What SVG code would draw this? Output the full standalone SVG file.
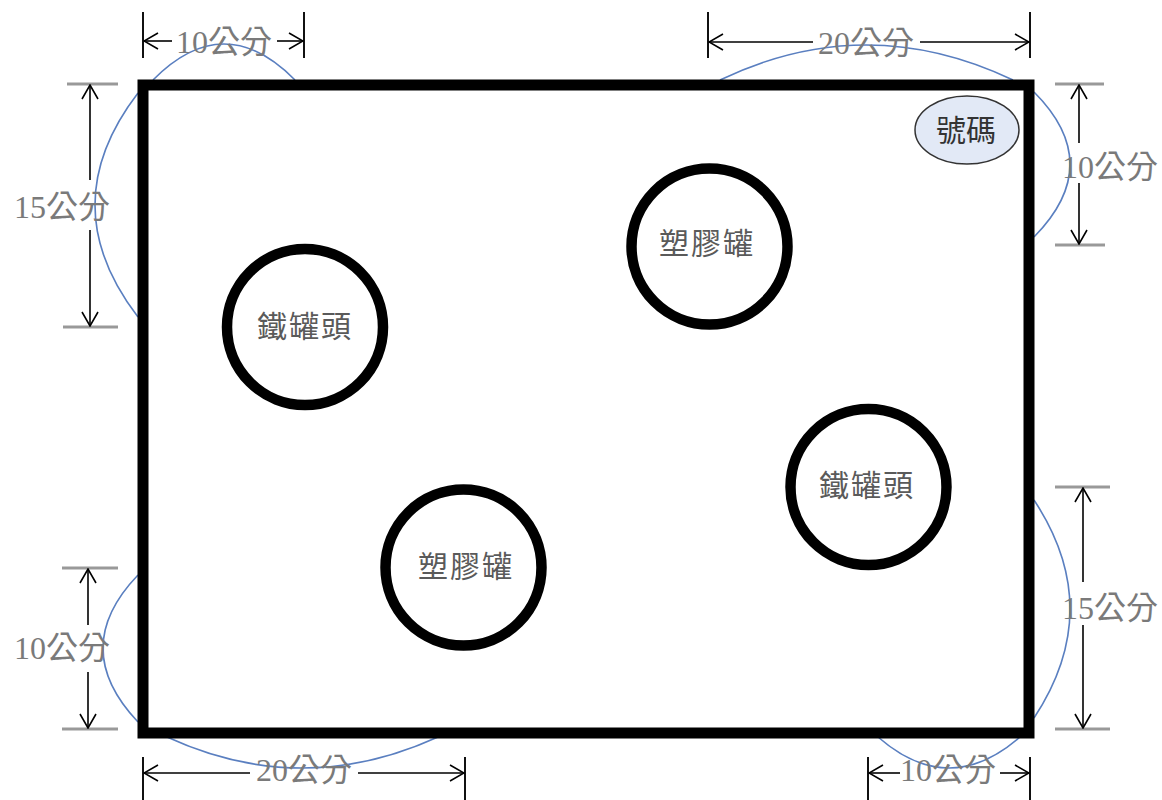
<svg xmlns="http://www.w3.org/2000/svg" width="1162" height="800" viewBox="0 0 1162 800">
<defs>
<marker id="ah" viewBox="0 0 16 18" refX="15" refY="9" markerWidth="16" markerHeight="18" markerUnits="userSpaceOnUse" orient="auto">
<path d="M1,1 L15,9 L1,17" fill="none" stroke="#000" stroke-width="1.6"/>
</marker>
<style>
.arc{fill:none;stroke:#5a7fc0;stroke-width:1.6}
.dl{stroke:#000;stroke-width:1.6;marker-end:url(#ah)}
.vt{stroke:#111;stroke-width:2}
.ht{stroke:#999;stroke-width:3}
.dim{font-family:"Liberation Serif","Noto Sans CJK TC",serif;font-size:32px;fill:#7a7a7a;text-anchor:middle}
.can{fill:none;stroke:#000;stroke-width:10.5}
.lbl{font-family:"Noto Sans CJK TC","Noto Sans CJK SC",sans-serif;font-size:30px;fill:#5a5a5a;text-anchor:middle;letter-spacing:2px}
</style>
</defs>
<rect width="1162" height="800" fill="#fff"/>
<g id="arcs">
<path class="arc" d="M153,80 Q224,8 295,80"/>
<path class="arc" d="M720,80 Q866,10 1013,80"/>
<path class="arc" d="M1034,92 Q1106,164 1034,237"/>
<path class="arc" d="M138,93 Q52,205 138,317"/>
<path class="arc" d="M138,575 Q68,648 138,722"/>
<path class="arc" d="M167,737 Q302,799 438,737"/>
<path class="arc" d="M878,737 Q949,799 1020,737"/>
<path class="arc" d="M1034,500 Q1106,609 1034,718"/>
</g>
<g id="board">
<rect x="143" y="85" width="886" height="648" fill="#fff" stroke="#000" stroke-width="11"/>
</g>
<g id="can1"><circle class="can" cx="305" cy="327" r="78"/><text class="lbl" x="305" y="337">鐵罐頭</text></g>
<g id="can2"><circle class="can" cx="709.5" cy="246.5" r="78"/><text class="lbl" x="707" y="254">塑膠罐</text></g>
<g id="can3"><circle class="can" cx="868.5" cy="487" r="78"/><text class="lbl" x="867" y="496">鐵罐頭</text></g>
<g id="can4"><circle class="can" cx="463.5" cy="567.5" r="78"/><text class="lbl" x="466" y="577">塑膠罐</text></g>
<g id="number"><ellipse cx="967" cy="130" rx="52" ry="34" fill="#e2e9f6" stroke="#333" stroke-width="1.5"/><text x="966" y="141" font-family="Noto Sans CJK TC, Noto Sans CJK SC, sans-serif" font-size="30" fill="#333" text-anchor="middle">號碼</text></g>
<g id="connectors">
<line class="vt" x1="143" y1="12" x2="143" y2="58"/><line class="vt" x1="304" y1="12" x2="304" y2="58"/>
<line class="dl" x1="172" y1="41" x2="144" y2="41"/><line class="dl" x1="277" y1="41" x2="303" y2="41"/>
<line class="vt" x1="708" y1="12" x2="708" y2="58"/><line class="vt" x1="1030" y1="12" x2="1030" y2="58"/>
<line class="dl" x1="813" y1="42" x2="709" y2="42"/><line class="dl" x1="920" y1="42" x2="1029" y2="42"/>
<line class="ht" x1="67" y1="84" x2="118" y2="84"/><line class="ht" x1="63" y1="327" x2="118" y2="327"/>
<line class="dl" x1="90" y1="180" x2="90" y2="85"/><line class="dl" x1="90" y1="230" x2="90" y2="326"/>
<line class="ht" x1="62" y1="568" x2="118" y2="568"/><line class="ht" x1="62" y1="729" x2="118" y2="729"/>
<line class="dl" x1="88" y1="625" x2="88" y2="569"/><line class="dl" x1="88" y1="672" x2="88" y2="728"/>
<line class="vt" x1="143" y1="757" x2="143" y2="800"/><line class="vt" x1="465" y1="757" x2="465" y2="800"/>
<line class="dl" x1="250" y1="773" x2="144" y2="773"/><line class="dl" x1="358" y1="773" x2="464" y2="773"/>
<line class="vt" x1="868" y1="757" x2="868" y2="800"/><line class="vt" x1="1030" y1="757" x2="1030" y2="800"/>
<line class="dl" x1="900" y1="773" x2="869" y2="773"/><line class="dl" x1="1000" y1="773" x2="1029" y2="773"/>
<line class="ht" x1="1055" y1="84" x2="1104" y2="84"/><line class="ht" x1="1055" y1="245" x2="1105" y2="245"/>
<line class="dl" x1="1079" y1="143" x2="1079" y2="85"/><line class="dl" x1="1079" y1="183" x2="1079" y2="244"/>
<line class="ht" x1="1055" y1="487" x2="1110" y2="487"/><line class="ht" x1="1055" y1="729" x2="1110" y2="729"/>
<line class="dl" x1="1083" y1="582" x2="1083" y2="488"/><line class="dl" x1="1083" y1="625" x2="1083" y2="728"/>
</g>
<g id="dim-labels">
<text class="dim" x="224" y="53">10公分</text>
<text class="dim" x="866" y="54">20公分</text>
<text class="dim" x="62" y="218">15公分</text>
<text class="dim" x="62" y="659">10公分</text>
<text class="dim" x="304" y="781">20公分</text>
<text class="dim" x="948" y="781">10公分</text>
<text class="dim" x="1110" y="619">15公分</text>
<text class="dim" x="1110" y="178">10公分</text>
</g>
</svg>
